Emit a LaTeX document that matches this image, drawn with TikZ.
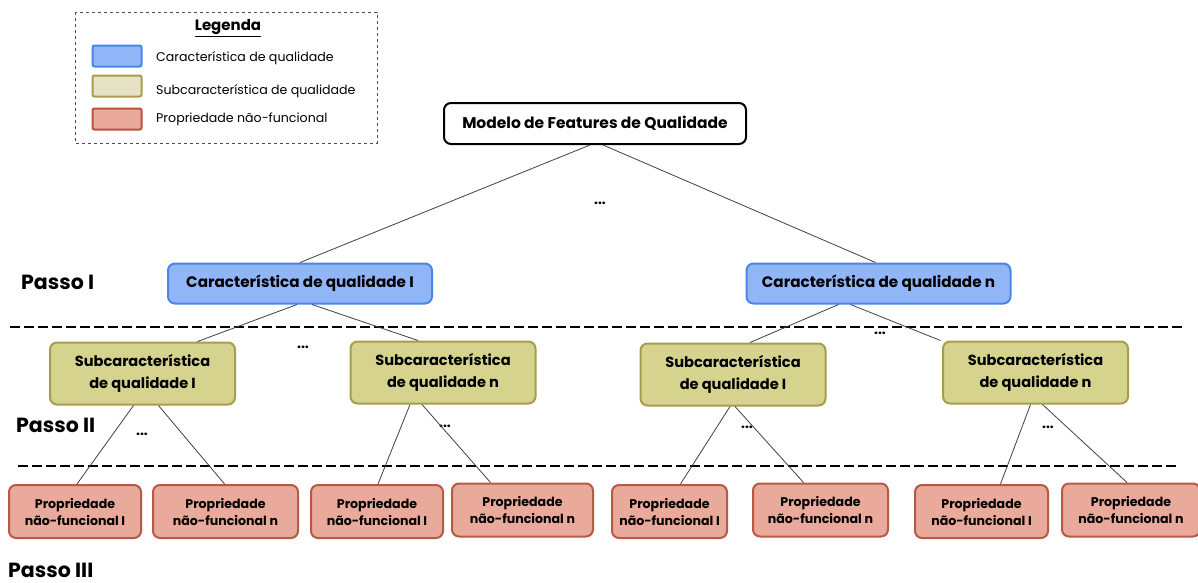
\documentclass[tikz,border=0pt]{standalone}
\usepackage{fontspec}
\setmainfont{Poppins}
\usetikzlibrary{calc}
\definecolor{bfill}{HTML}{90B6F8}
\definecolor{bdraw}{HTML}{4A86E8}
\definecolor{ofill}{HTML}{D6D38F}
\definecolor{odraw}{HTML}{A69E4C}
\definecolor{rfill}{HTML}{E9A99B}
\definecolor{rdraw}{HTML}{B65A45}
\definecolor{lfill}{HTML}{E6E2C4}
\tikzset{
  x=1pt, y=-1pt,
  box/.style={rounded corners=7pt, line width=2pt, align=center, inner sep=0pt, font=\bfseries},
  topbox/.style={box, draw=black, fill=white, minimum width=302pt, minimum height=41pt, font=\fontsize{15.5}{18}\selectfont\bfseries},
  charbox/.style={box, draw=bdraw, fill=bfill, minimum width=264pt, minimum height=40pt, font=\fontsize{15.2}{18}\selectfont\bfseries},
  subbox/.style={box, draw=odraw, fill=ofill, minimum width=185pt, minimum height=62pt, font=\fontsize{14.6}{22}\selectfont\bfseries},
  propbox/.style={box, draw=rdraw, fill=rfill, minimum height=53pt, font=\fontsize{12.6}{17}\selectfont\bfseries},
  swatch/.style={rounded corners=2pt, line width=2pt, minimum width=49pt, minimum height=21pt, inner sep=0pt},
  legtext/.style={anchor=west, font=\fontsize{12.6}{14}\selectfont, inner sep=0pt},
  passo/.style={anchor=west, font=\fontsize{20.5}{24}\selectfont\bfseries, inner sep=0pt},
  dots/.style={font=\fontsize{14}{15}\selectfont\bfseries, inner sep=0pt},
  sep/.style={line width=2.6pt, dash pattern=on 10pt off 4pt},
  edge/.style={line width=0.8pt, draw=black!75}
}
\begin{document}
\begin{tikzpicture}
\useasboundingbox (0,0) rectangle (1198,582);
% legend
\draw[dashed, line width=0.8pt, black!70] (75,12) rectangle (377,143);
\node[font=\fontsize{15}{17}\selectfont\bfseries, inner sep=0pt] (legt) at (228,28) {\underline{Legenda}};
\node[swatch, draw=bdraw, fill=bfill] (sw1) at (117,56) {};
\node[swatch, draw=odraw, fill=lfill] (sw2) at (117,86) {};
\node[swatch, draw=rdraw!90!red, fill=rfill] (sw3) at (117,119) {};
\node[legtext] (lt1) at (156,58.5) {Característica de qualidade};
\node[legtext] (lt2) at (156,91.5) {Subcaracterística de qualidade};
\node[legtext] (lt3) at (156,119) {Propriedade não-funcional};
% top
\node[topbox] (top) at (595,123.5) {Modelo de Features de Qualidade};
\node[dots] (d0) at (600,203) {...};
% characteristics
\node[charbox] (c1) at (300,283.5) {Característica de qualidade I};
\node[charbox] (c2) at (878.5,283.5) {Característica de qualidade n};
\node[passo] (p1) at (21,282) {Passo I};
\draw[sep] (10,327) -- (1182,327);
% subcharacteristics
\node[subbox] (s1) at (142.5,373.5) {Subcaracterística\\de qualidade I};
\node[subbox] (s2) at (443,372.5) {Subcaracterística\\de qualidade n};
\node[subbox] (s3) at (733,374.5) {Subcaracterística\\de qualidade I};
\node[subbox] (s4) at (1035.5,372.5) {Subcaracterística\\de qualidade n};
\node[dots] (d1) at (303,347) {...};
\node[dots] (d2) at (880,333) {...};
\node[passo] (p2) at (16,425) {Passo II};
\node[dots] (d3) at (142,434) {...};
\node[dots] (d4) at (445,426) {...};
\node[dots] (d5) at (747,427) {...};
\node[dots] (d6) at (1048,427) {...};
\draw[sep] (18,466) -- (1177,466);
% properties
\node[propbox, minimum width=132pt] (q1) at (75,511.5) {Propriedade\\não-funcional I};
\node[propbox, minimum width=145pt] (q2) at (225.5,511.5) {Propriedade\\não-funcional n};
\node[propbox, minimum width=132pt] (q3) at (377,511.5) {Propriedade\\não-funcional I};
\node[propbox, minimum width=141pt] (q4) at (522.5,510) {Propriedade\\não-funcional n};
\node[propbox, minimum width=115pt] (q5) at (669.5,511.5) {Propriedade\\não-funcional I};
\node[propbox, minimum width=135pt] (q6) at (820.5,510) {Propriedade\\não-funcional n};
\node[propbox, minimum width=133pt] (q7) at (981.5,511.5) {Propriedade\\não-funcional I};
\node[propbox, minimum width=138pt] (q8) at (1131,510) {Propriedade\\não-funcional n};
\node[passo] (p3) at (8,570) {Passo III};
% edges
\draw[edge] ([xshift=-5pt]top.south) -- (c1.north);
\draw[edge] ([xshift=8pt]top.south) -- ([xshift=-3pt]c2.north);
\draw[edge] ([xshift=-3pt]c1.south) -- ([xshift=55pt]s1.north);
\draw[edge] ([xshift=12pt]c1.south) -- ([xshift=-25pt]s2.north);
\draw[edge] ([xshift=-40pt]c2.south) -- ([xshift=17pt]s3.north);
\draw[edge] ([xshift=-28pt]c2.south) -- ([xshift=-95pt]s4.north);
\draw[edge] ([xshift=-9pt]s1.south) -- ([xshift=2pt]q1.north);
\draw[edge] ([xshift=16pt]s1.south) -- ([xshift=-1pt]q2.north);
\draw[edge] ([xshift=-33pt]s2.south) -- ([xshift=1pt]q3.north);
\draw[edge] ([xshift=-21pt]s2.south) -- ([xshift=-32pt]q4.north);
\draw[edge] ([xshift=-3pt]s3.south) -- ([xshift=11pt]q5.north);
\draw[edge] ([xshift=2pt]s3.south) -- ([xshift=-17pt]q6.north);
\draw[edge] ([xshift=-5pt]s4.south) -- ([xshift=19pt]q7.north);
\draw[edge] ([xshift=7pt]s4.south) -- ([xshift=-4pt]q8.north);
\end{tikzpicture}
\end{document}
